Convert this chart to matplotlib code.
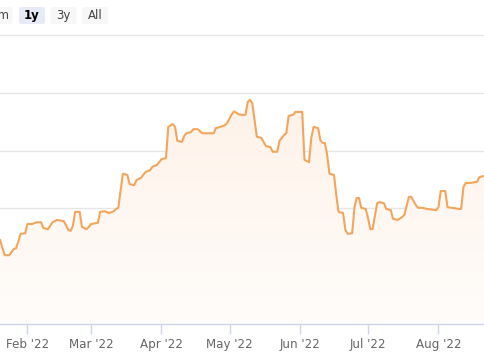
import numpy as np
import matplotlib
matplotlib.use("Agg")
from matplotlib import pyplot as plt
import matplotlib.dates as mdates
from matplotlib.patches import FancyBboxPatch

# data (arbitrary units, gridline step = 10)
dates = (
    ["2022-01-20", "2022-01-21", "2022-01-22", "2022-01-24", "2022-01-26", "2022-01-27",
     "2022-01-29", "2022-01-31"] +
    ["2022-02-01", "2022-02-03", "2022-02-05", "2022-02-07", "2022-02-08", "2022-02-10",
     "2022-02-12", "2022-02-14", "2022-02-17", "2022-02-19", "2022-02-20", "2022-02-21",
     "2022-02-22", "2022-02-24", "2022-02-25", "2022-02-27", "2022-02-28"] +
    ["2022-03-01", "2022-03-04", "2022-03-05", "2022-03-07", "2022-03-09", "2022-03-11",
     "2022-03-12", "2022-03-13", "2022-03-15", "2022-03-17", "2022-03-18", "2022-03-20",
     "2022-03-21", "2022-03-23", "2022-03-25", "2022-03-27", "2022-03-28", "2022-03-30"] +
    ["2022-04-01", "2022-04-03", "2022-04-04", "2022-04-06", "2022-04-07", "2022-04-08",
     "2022-04-10", "2022-04-11", "2022-04-12", "2022-04-14", "2022-04-15", "2022-04-17",
     "2022-04-19", "2022-04-21", "2022-04-24", "2022-04-25", "2022-04-27", "2022-04-29",
     "2022-04-30"] +
    ["2022-05-02", "2022-05-03", "2022-05-05", "2022-05-06", "2022-05-08", "2022-05-09",
     "2022-05-10", "2022-05-11", "2022-05-12", "2022-05-13", "2022-05-15", "2022-05-17",
     "2022-05-19", "2022-05-20", "2022-05-22", "2022-05-23", "2022-05-25", "2022-05-26",
     "2022-05-27", "2022-05-29", "2022-05-30"] +
    ["2022-06-02", "2022-06-03", "2022-06-05", "2022-06-06", "2022-06-07", "2022-06-09",
     "2022-06-10", "2022-06-11", "2022-06-12", "2022-06-13", "2022-06-14", "2022-06-16",
     "2022-06-17", "2022-06-18", "2022-06-20", "2022-06-21", "2022-06-22", "2022-06-24",
     "2022-06-25", "2022-06-26", "2022-06-27", "2022-06-28", "2022-06-30"] +
    ["2022-07-01", "2022-07-02", "2022-07-03", "2022-07-05", "2022-07-06", "2022-07-08",
     "2022-07-09", "2022-07-11", "2022-07-12", "2022-07-14", "2022-07-16", "2022-07-17",
     "2022-07-19", "2022-07-20", "2022-07-22", "2022-07-23", "2022-07-25", "2022-07-27",
     "2022-07-31"] +
    ["2022-08-01", "2022-08-02", "2022-08-04", "2022-08-05", "2022-08-07", "2022-08-10",
     "2022-08-11", "2022-08-12", "2022-08-13", "2022-08-15", "2022-08-18", "2022-08-19",
     "2022-08-21", "2022-08-22"]
)

values = (
    [14.5, 13.1, 11.9, 11.9, 13.0, 13.1, 15.6, 15.7] +
    [17.3, 17.3, 17.6, 17.6, 16.6, 16.4, 17.6, 18.0, 17.8, 16.3, 16.1, 17.0,
     19.4, 19.4, 16.8, 16.4, 16.8] +
    [17.3, 17.5, 19.4, 19.5, 19.2, 19.5, 19.9, 20.1, 26.0, 25.8, 24.2, 24.0,
     24.9, 25.3, 26.3, 26.6, 27.2, 27.5] +
    [28.5, 28.7, 34.1, 34.6, 34.1, 31.7, 31.5, 32.5, 33.0, 33.2, 33.7, 33.7,
     33.0, 33.0, 33.0, 33.9, 34.1, 34.4, 34.8] +
    [36.3, 36.8, 36.3, 36.2, 36.2, 38.4, 38.8, 38.2, 35.3, 32.4, 32.2, 30.8,
     30.6, 29.8, 29.8, 31.7, 32.7, 33.0, 36.0, 36.2, 36.7] +
    [36.7, 28.4, 28.0, 32.2, 34.1, 33.9, 31.8, 31.3, 31.3, 29.2, 26.0, 25.8,
     22.3, 19.4, 19.2, 16.3, 15.6, 15.7, 20.2, 21.8, 21.8, 20.1, 19.9] +
    [18.3, 16.4, 16.4, 20.9, 21.1, 20.9, 19.9, 19.7, 18.2, 18.0, 18.5, 18.9,
     22.0, 22.0, 20.6, 20.1, 20.1, 19.9, 19.7] +
    [20.2, 23.0, 23.0, 20.2, 20.1, 19.9, 19.9, 23.7, 24.4, 24.4, 24.6, 25.4,
     25.6, 25.4]
)

month_ticks = ["2022-02-01", "2022-03-01", "2022-04-01", "2022-05-01",
               "2022-06-01", "2022-07-01", "2022-08-01"]
month_labels = ["Feb '22", "Mar '22", "Apr '22", "May '22", "Jun '22", "Jul '22", "Aug '22"]

buttons = ["6m", "1y", "3y", "All"]
selected = "1y"

x = mdates.datestr2num(dates)
y = np.array(values)

fig = plt.figure(figsize=(4.85, 3.6), dpi=100)
ax = fig.add_axes([0, 36 / 360, 1, 289 / 360])

line_color = "#f4a55c"
x0 = mdates.datestr2num("2022-02-01")

for g in [10, 20, 30, 40, 50]:
    ax.axhline(g, color="#e6e6e6", lw=1, zorder=0, clip_on=False)

# gradient fill under the line, opaque so it hides the gridlines
poly = ax.fill_between(x, y, 0, color="none", lw=0, zorder=1)
a = np.linspace(0.14, 0.03, 256).reshape(-1, 1)
base = np.array([247, 163, 92]) / 255
rgb = 1 - a[..., None] * (1 - base)
img = ax.imshow(rgb, extent=[x[0], x[-1], 0, 40], aspect="auto", origin="upper", zorder=1)
img.set_clip_path(poly.get_paths()[0], transform=ax.transData)
ax.set_xlim(x0 - 12.1, x0 + 201.5)
ax.set_ylim(0, 50)

ax.plot(x, y, color=line_color, lw=1.5, zorder=3, solid_joinstyle="round")

for s in ["top", "left", "right"]:
    ax.spines[s].set_visible(False)
ax.spines["bottom"].set_color("#ccd6eb")
ax.spines["bottom"].set_linewidth(1)
ax.spines["bottom"].set_zorder(4)

ax.set_xticks(mdates.datestr2num(month_ticks))
ax.set_xticklabels(month_labels)
ax.tick_params(axis="x", colors="#ccd6eb", length=7, width=1, pad=3, labelsize=8.6,
               labelcolor="#666666")
ax.set_yticks([])

# range selector buttons
centers = [-0.5, 32, 63.5, 95]
for lab, cx in zip(buttons, centers):
    fc = "#e6ebf5" if lab == selected else "#f7f7f7"
    bx = FancyBboxPatch(((cx - 13) / 485, (360 - 24) / 360), 26 / 485, 17 / 360,
                        boxstyle="round,pad=0,rounding_size=0.006",
                        transform=fig.transFigure, fc=fc, ec="none")
    fig.patches.append(bx)
    fig.text(cx / 485, (360 - 15.5) / 360, lab, ha="center", va="center",
             fontsize=8.5, color="#000000" if lab == selected else "#444444",
             fontweight="bold" if lab == selected else "normal")

fig.savefig("out.png", dpi=100)
